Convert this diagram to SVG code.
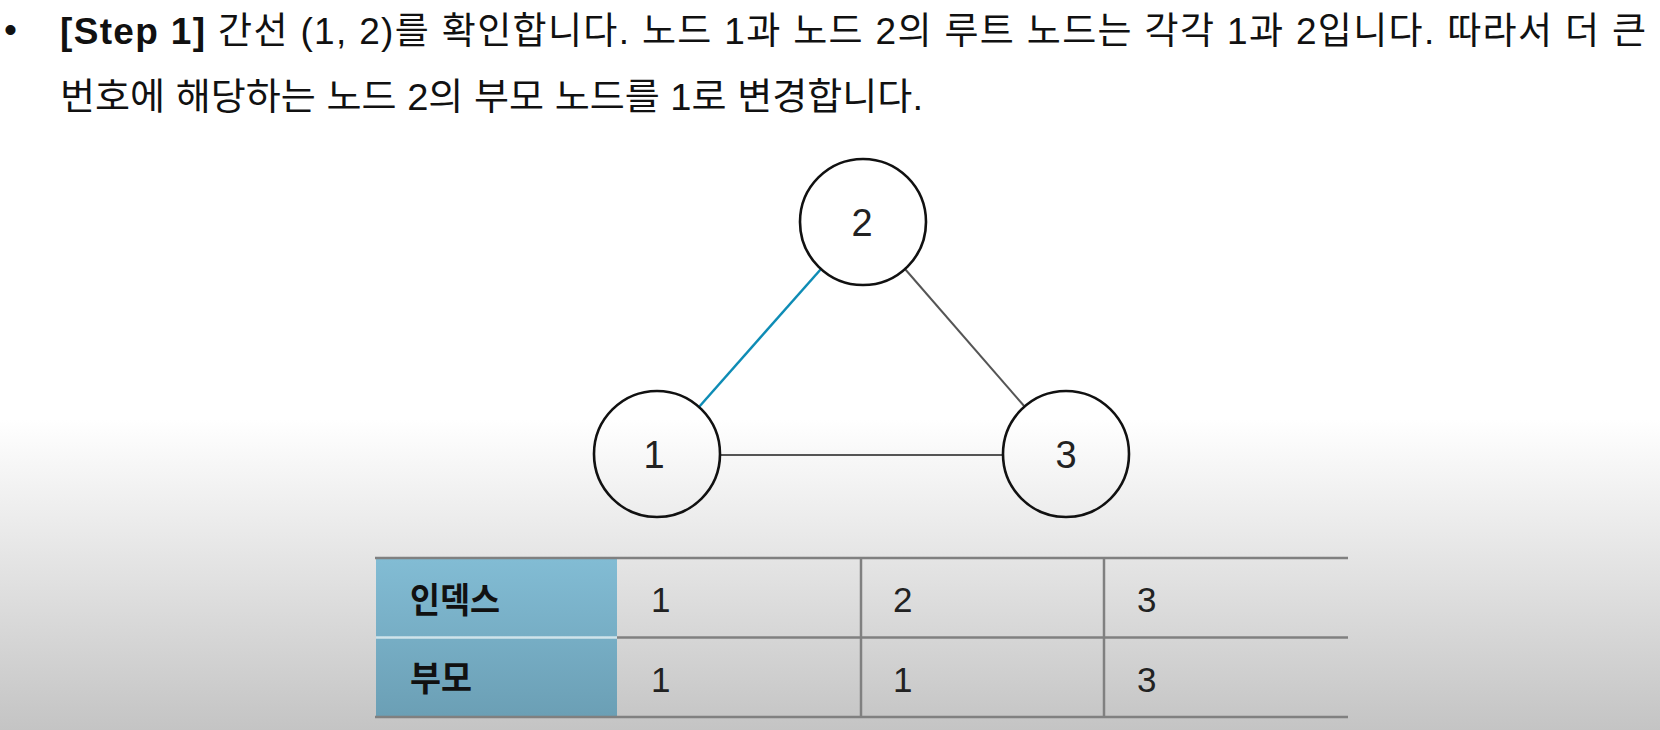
<svg xmlns="http://www.w3.org/2000/svg" width="1660" height="730" viewBox="0 0 1660 730">
<defs>
<linearGradient id="bg" x1="0" y1="0" x2="0" y2="730" gradientUnits="userSpaceOnUse">
<stop offset="0" stop-color="#ffffff"/>
<stop offset="0.575" stop-color="#ffffff"/>
<stop offset="0.66" stop-color="#f3f3f3"/>
<stop offset="0.8" stop-color="#e0e0e0"/>
<stop offset="1" stop-color="#c4c4c4"/>
</linearGradient>
<linearGradient id="hdr" x1="0" y1="0" x2="0" y2="1">
<stop offset="0" stop-color="#82bcd4"/>
<stop offset="1" stop-color="#6b9fb5"/>
</linearGradient>
<style>
.title{font-family:"Liberation Sans","Noto Sans CJK KR",sans-serif;font-size:37px;fill:#111}
.node{fill:none;stroke:#111;stroke-width:2.6}
.lbl{font-family:"Liberation Sans","Noto Sans CJK KR",sans-serif;font-size:38px;fill:#222;text-anchor:middle}
.edge{stroke:#555;stroke-width:2;fill:none}
.hl{stroke:#0e8cb5;stroke-width:2.5}
.grid{stroke:#808080;stroke-width:2.5;fill:none}
.th{font-family:"Noto Sans CJK KR",sans-serif;font-weight:bold;font-size:35px;fill:#111}
.td{font-family:"Liberation Sans","Noto Sans CJK KR",sans-serif;font-size:35px;fill:#222}
</style>
</defs>
<rect x="0" y="0" width="1660" height="730" fill="url(#bg)"/>

<g id="title">
<text class="title" x="10.5" y="42" text-anchor="middle" font-size="42">•</text>
<text class="title" x="60" y="44" textLength="1586" lengthAdjust="spacing"><tspan font-weight="bold">[Step 1]</tspan> 간선 (1, 2)를 확인합니다. 노드 1과 노드 2의 루트 노드는 각각 1과 2입니다. 따라서 더 큰</text>
<text class="title" x="60" y="110" font-size="39" textLength="863" lengthAdjust="spacingAndGlyphs">번호에 해당하는 노드 2의 부모 노드를 1로 변경합니다.</text>
</g>

<g id="connectors">
<line class="edge hl" x1="699" y1="407" x2="821" y2="269"/>
<line class="edge" x1="905" y1="269" x2="1025" y2="407"/>
<line class="edge" x1="720" y1="455" x2="1003" y2="455"/>
</g>

<g id="node2">
<circle class="node" cx="863" cy="222" r="63"/>
<text class="lbl" x="862" y="236">2</text>
</g>
<g id="node1">
<circle class="node" cx="657" cy="454" r="63"/>
<text class="lbl" x="654" y="468">1</text>
</g>
<g id="node3">
<circle class="node" cx="1066" cy="454" r="63"/>
<text class="lbl" x="1066" y="468">3</text>
</g>

<g id="table">
<rect x="376" y="559" width="241" height="158" fill="url(#hdr)"/>
<line x1="376" y1="637.5" x2="617" y2="637.5" stroke="#cfe3ea" stroke-width="2.5"/>
<line class="grid" x1="375" y1="558" x2="1348" y2="558"/>
<line class="grid" x1="617" y1="637.5" x2="1348" y2="637.5"/>
<line class="grid" x1="375" y1="717" x2="1348" y2="717"/>
<line class="grid" x1="861" y1="558" x2="861" y2="717"/>
<line class="grid" x1="1104" y1="558" x2="1104" y2="717"/>
<text class="th" x="410" y="613" textLength="90" lengthAdjust="spacingAndGlyphs">인덱스</text>
<text class="th" x="410" y="691" textLength="62" lengthAdjust="spacingAndGlyphs">부모</text>
<text class="td" x="651" y="612">1</text>
<text class="td" x="893" y="612">2</text>
<text class="td" x="1137" y="612">3</text>
<text class="td" x="651" y="692">1</text>
<text class="td" x="893" y="692">1</text>
<text class="td" x="1137" y="692">3</text>
</g>
</svg>
